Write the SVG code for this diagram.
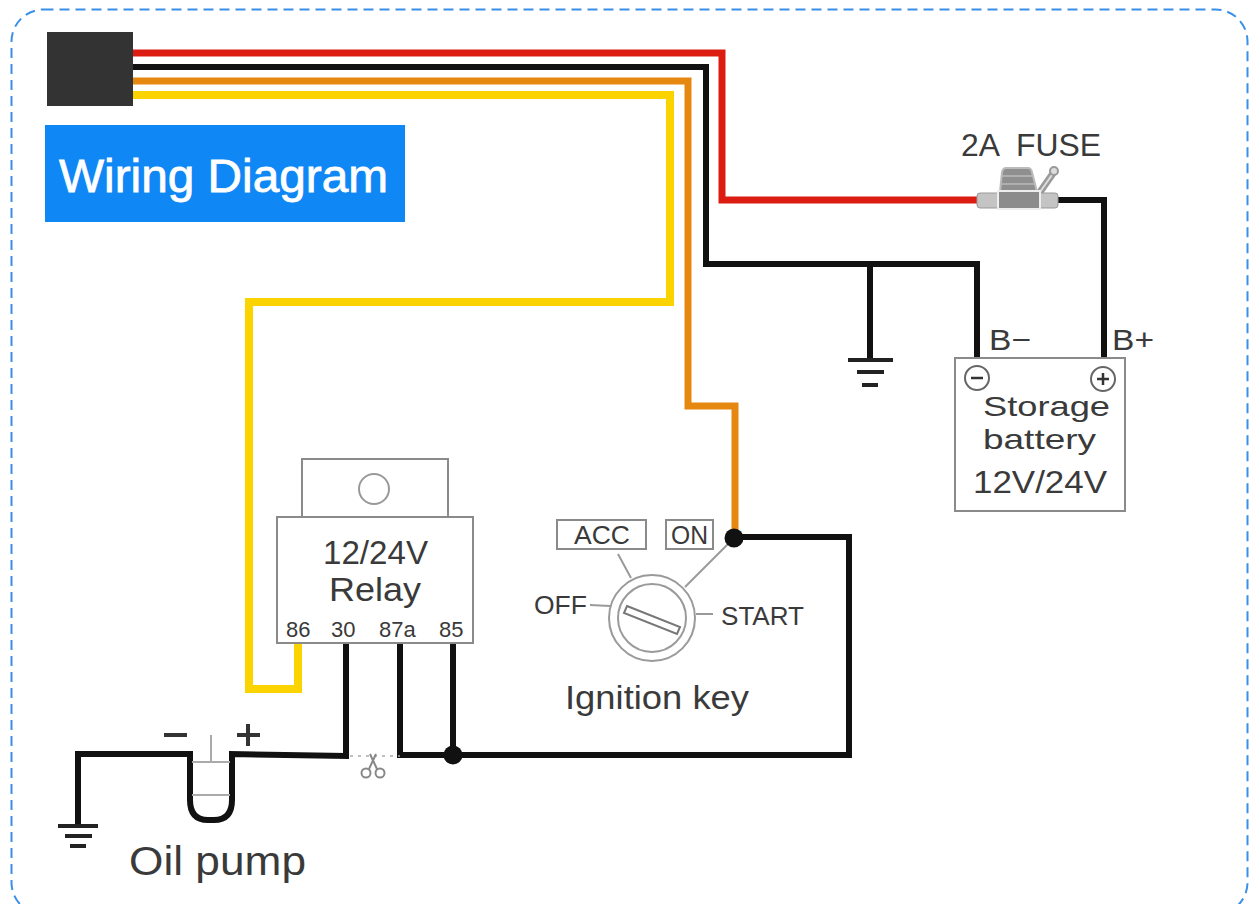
<svg xmlns="http://www.w3.org/2000/svg" width="1249" height="904" viewBox="0 0 1249 904">
<style>
.t{font-family:"Liberation Sans",Arial,sans-serif;fill:#3a3a3a}
.w{fill:none;stroke-linejoin:miter}
.blk{stroke:#111;stroke-width:6}
.thin{fill:none;stroke:#9a9a9a;stroke-width:2}
.box{fill:#fff;stroke:#8a8a8a;stroke-width:2}
.gnd{stroke:#222;stroke-width:4}
</style>
<rect width="1249" height="904" fill="#fff"/>
<rect x="11.500" y="9.500" width="1236" height="905" rx="32" fill="none" stroke="#3a90e6" stroke-width="2" stroke-dasharray="10 6"/>
<g id="connectors">
<path class="w" d="M133 53H722V200H985" stroke="#dc1c10" stroke-width="7"/>
<path class="w blk" d="M133 67H706V264H977V358"/>
<path class="w blk" d="M870 264V358"/>
<path class="w" d="M133 81H688V406H735V537" stroke="#e6880f" stroke-width="7"/>
<path class="w" d="M133 95H670V302H249V689H298V643" stroke="#fbd400" stroke-width="8"/>
<path class="w blk" d="M1056 200H1104V358"/>
<path class="w blk" d="M735 537H849V755H400V643"/>
<path class="w blk" d="M453 755V643"/>
<path class="w blk" d="M78 825V754H190V800Q190 820 208 820H214Q232 820 232 800V754L346 756V643"/>
<path d="M350 756H400" fill="none" stroke="#aaa" stroke-width="1.500" stroke-dasharray="3 5"/>
</g>
<g id="connector-block"><rect x="47" y="32" width="86" height="74" fill="#333"/></g>
<g id="title"><rect x="45" y="125" width="360" height="97" fill="#0f87f5"/>
<text x="59" y="192" font-size="47" stroke="#fff" stroke-width="0.800" style="font-family:'Liberation Sans',Arial,sans-serif;fill:#fff" textLength="329" lengthAdjust="spacingAndGlyphs">Wiring Diagram</text></g>
<g id="fuse">
<text class="t" x="961" y="156" font-size="31" textLength="140" lengthAdjust="spacingAndGlyphs" style="white-space:pre">2A  FUSE</text>
<path d="M1040 192l14-20" stroke="#9a9a9a" stroke-width="7" fill="none"/>
<path d="M1040 192l14-20" stroke="#ddd" stroke-width="2" fill="none"/>
<circle cx="1054" cy="171" r="4" fill="#ddd" stroke="#999" stroke-width="2"/>
<rect x="977" y="193" width="81" height="15" rx="3" fill="#c4c4c4" stroke="#999"/>
<path d="M1000 192l2-20q1-4 4-4h22q3 0 4 4l5 20z" fill="#8f8f8f" stroke="#bbb" stroke-width="2"/>
<rect x="998" y="191" width="42" height="18" fill="#8c8c8c" stroke="#eee" stroke-width="2"/>
<path d="M1002 176h30M1002 184h33" stroke="#bbb" stroke-width="1.500"/>
</g>
<g id="battery">
<rect class="box" x="955" y="358" width="170" height="153"/>
<circle cx="977" cy="378" r="12" fill="#fff" stroke="#666" stroke-width="2"/><path d="M971 378H983" stroke="#333" stroke-width="2.500"/>
<circle cx="1103" cy="379" r="12" fill="#fff" stroke="#666" stroke-width="2"/><path d="M1097 379H1109M1103 373V385" stroke="#333" stroke-width="2.500"/>
<text class="t" x="989" y="350" font-size="30" textLength="42" lengthAdjust="spacingAndGlyphs">B−</text>
<text class="t" x="1112" y="350" font-size="30" textLength="42" lengthAdjust="spacingAndGlyphs">B+</text>
<text class="t" x="983" y="416" font-size="28" textLength="127" lengthAdjust="spacingAndGlyphs">Storage</text>
<text class="t" x="983" y="449" font-size="28" textLength="113" lengthAdjust="spacingAndGlyphs">battery</text>
<text class="t" x="973" y="493" font-size="31" textLength="134" lengthAdjust="spacingAndGlyphs">12V/24V</text>
</g>
<g id="ground-1" class="gnd"><path d="M848 360H893M857 372H884M862 385H878"/></g>
<g id="relay">
<rect class="box" x="302" y="459" width="146" height="59"/>
<circle cx="374" cy="489" r="15" fill="#fff" stroke="#999" stroke-width="2"/>
<rect class="box" x="277" y="517" width="196" height="126"/>
<text class="t" x="323" y="564" font-size="33" textLength="105" lengthAdjust="spacingAndGlyphs">12/24V</text>
<text class="t" x="329" y="601" font-size="34" textLength="92" lengthAdjust="spacingAndGlyphs">Relay</text>
<text class="t" x="286" y="637" font-size="22">86</text>
<text class="t" x="331" y="637" font-size="22">30</text>
<text class="t" x="379" y="637" font-size="22">87a</text>
<text class="t" x="439" y="637" font-size="22">85</text>
</g>
<g id="ignition-key">
<rect class="box" x="557" y="520" width="89" height="29"/>
<text class="t" x="574" y="544" font-size="25" textLength="56" lengthAdjust="spacingAndGlyphs">ACC</text>
<rect class="box" x="666" y="520" width="47" height="29"/>
<text class="t" x="671" y="544" font-size="25" textLength="37" lengthAdjust="spacingAndGlyphs">ON</text>
<circle cx="652" cy="618" r="43" fill="#fff" stroke="#9a9a9a" stroke-width="2"/>
<circle cx="652" cy="618" r="34" fill="#fff" stroke="#9a9a9a" stroke-width="2"/>
<path d="M627 606L680 627L677 634L624 613Z" fill="#fff" stroke="#777" stroke-width="2"/>
<path class="thin" d="M618 554L631 578M590 605L610 606M696 614H713M685 587L735 537"/>
<text class="t" x="534" y="614" font-size="25" textLength="53" lengthAdjust="spacingAndGlyphs">OFF</text>
<text class="t" x="721" y="625" font-size="25" textLength="83" lengthAdjust="spacingAndGlyphs">START</text>
<text class="t" x="565" y="709" font-size="33" textLength="184" lengthAdjust="spacingAndGlyphs">Ignition key</text>
</g>
<g id="junctions"><circle cx="734" cy="538" r="9.500" fill="#111"/><circle cx="453" cy="755" r="9.500" fill="#111"/></g>
<g id="oil-pump">
<path d="M164 735H187" stroke="#333" stroke-width="4"/>
<path d="M237 735H260M248 724V746" stroke="#333" stroke-width="4"/>
<path d="M211 735V762M192 762H230M192 795H230" stroke="#aaa" stroke-width="2" fill="none"/>
<text class="t" x="129" y="875" font-size="40" textLength="177" lengthAdjust="spacingAndGlyphs">Oil pump</text>
</g>
<g id="scissors">
<circle cx="366" cy="773" r="4.500" fill="none" stroke="#888" stroke-width="2"/>
<circle cx="380" cy="773" r="4.500" fill="none" stroke="#888" stroke-width="2"/>
<path d="M369 769L376 754M377 769L370 754" stroke="#888" stroke-width="2"/>
</g>
<g id="ground-2" class="gnd"><path d="M58 826H98M65 836H92M70 846H86"/></g>
</svg>
